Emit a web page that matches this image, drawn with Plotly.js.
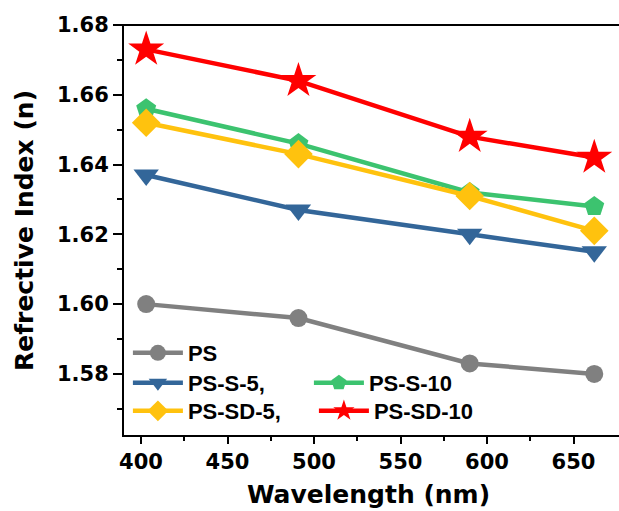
<!DOCTYPE html>
<html>
<head>
<meta charset="utf-8">
<script src="https://cdn.plot.ly/plotly-3.0.1.min.js"></script>
<style>html,body{margin:0;padding:0;background:#fff;overflow:hidden;}#chart{width:619px;height:511px;}</style>
</head>
<body>
<div id="chart"></div>
<script>
const wavelength = [403, 491, 590, 662];
const nPS = [1.600, 1.596, 1.583, 1.580];
const nPSS5 = [1.637, 1.627, 1.620, 1.615];
const nPSS10 = [1.656, 1.646, 1.632, 1.628];
const nPSSD5 = [1.652, 1.643, 1.631, 1.621];
const nPSSD10 = [1.673, 1.664, 1.648, 1.642];
const names = ['PS', 'PS-S-5,', 'PS-S-10', 'PS-SD-5,', 'PS-SD-10'];
const xMajorTicks = [400, 450, 500, 550, 600, 650];
const xMinorTicks = [425, 475, 525, 575, 625];
const yMajorTicks = [1.58, 1.60, 1.62, 1.64, 1.66, 1.68];

function tr(y, name, color, symbol, size, legend) {
  return {
    x: wavelength, y: y, name: name, type: 'scatter', mode: 'lines+markers',
    line: {color: color, width: 4.5},
    marker: {color: color, symbol: symbol, size: size},
    legend: legend, cliponaxis: false
  };
}
const data = [
  tr(nPS, names[0], '#808080', 'circle', 18, 'legend'),
  tr(nPSS5, names[1], '#336699', 'triangle-down', 22, 'legend2'),
  tr(nPSS10, names[2], '#3CC36F', 'pentagon', 21, 'legend2'),
  tr(nPSSD5, names[3], '#FFC20E', 'diamond', 22, 'legend3'),
  tr(nPSSD10, names[4], '#FF0000', 'star', 27, 'legend3'),
  {x: [wavelength[0]], y: [nPS[0]], xaxis: 'x2', type: 'scatter', mode: 'markers',
   marker: {opacity: 0}, showlegend: false, hoverinfo: 'skip'}
];
const tickFont = {family: 'DejaVu Sans', size: 21, weight: 'bold', color: '#000'};
const titleFont = {family: 'DejaVu Sans', size: 25, weight: 'bold', color: '#000'};
const legFont = {family: 'Liberation Sans', size: 22, weight: 'bold', color: '#000'};
function leg(y, ew) {
  return {x: 0.01, y: y, xanchor: 'left', yanchor: 'middle', orientation: 'h',
    entrywidth: ew, bgcolor: 'rgba(0,0,0,0)', font: legFont, itemwidth: 50};
}
const frame = {type: 'line', xref: 'paper', yref: 'paper', line: {color: '#000', width: 2}, layer: 'above'};
const xr = [389.6, 673.4];
const layout = {
  width: 619, height: 511,
  margin: {l: 123, r: 5, t: 25, b: 75},
  paper_bgcolor: '#fff', plot_bgcolor: '#fff',
  showlegend: true,
  shapes: [
    Object.assign({x0: 0, x1: 1.03, y0: 0, y1: 0}, frame),
    Object.assign({x0: 0, x1: 1.03, y0: 1, y1: 1}, frame),
    Object.assign({x0: 0, x1: 0, y0: -0.0025, y1: 1.0025}, frame)
  ],
  xaxis: {
    range: xr, tickvals: xMajorTicks,
    ticks: 'outside', ticklen: 7, tickwidth: 2, tickcolor: '#000',
    showline: false, showgrid: false, zeroline: false, tickfont: tickFont,
    title: {text: 'Wavelength (nm)', font: titleFont, standoff: 12}
  },
  xaxis2: {
    range: xr, overlaying: 'x', side: 'bottom', anchor: 'y', tickvals: xMinorTicks,
    ticks: 'outside', ticklen: 4, tickwidth: 2, tickcolor: '#000',
    showticklabels: false, showline: false, showgrid: false, zeroline: false
  },
  yaxis: {
    range: [1.5622, 1.68], tickvals: yMajorTicks, tickformat: '.2f',
    ticks: 'outside', ticklen: 9, tickwidth: 2, tickcolor: '#000',
    minor: {dtick: 0.01, tick0: 1.57, ticks: 'outside', ticklen: 5, tickwidth: 2, tickcolor: '#000', showgrid: false},
    showline: false, showgrid: false, zeroline: false, tickfont: tickFont,
    title: {text: 'Refrective Index (n)', font: titleFont, standoff: 16}
  },
  legend: leg(0.2019, 116),
  legend2: leg(0.129, 116),
  legend3: leg(0.0608, 121)
};
Plotly.newPlot('chart', data, layout, {displayModeBar: false, staticPlot: true});
</script>
</body>
</html>
